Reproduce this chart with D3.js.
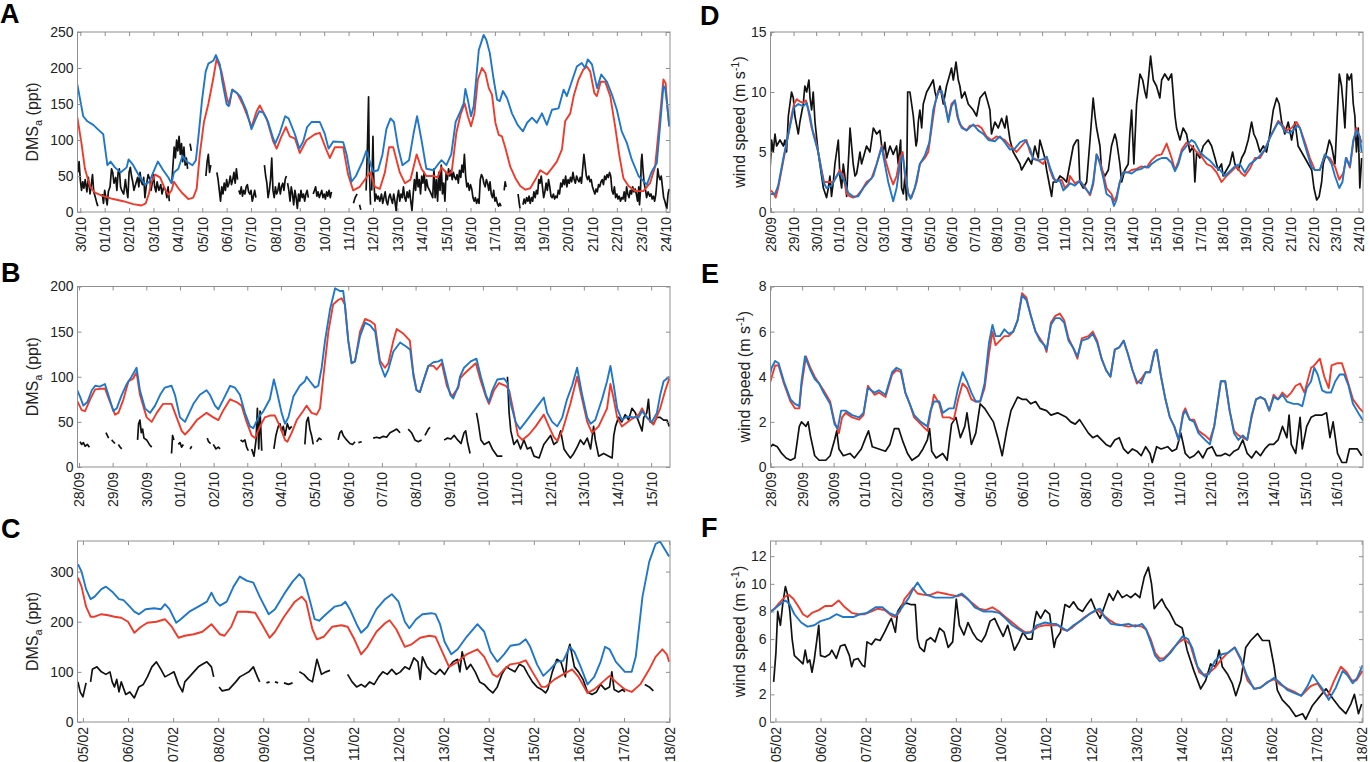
<!DOCTYPE html>
<html>
<head>
<meta charset="utf-8">
<script src="https://cdn.jsdelivr.net/npm/d3@7"></script>
<style>
  body { margin: 0; background: #fff; }
  svg { display: block; }
</style>
</head>
<body>
<svg id="chart" width="1370" height="762"></svg>
<script>
// ---- tick labels ----
const aDates = ['30/10','01/10','02/10','03/10','04/10','05/10','06/10','07/10','08/10','09/10','10/10','11/10','12/10',
  '13/10','14/10','15/10','16/10','17/10','18/10','19/10','20/10','21/10','22/10','23/10','24/10'];
const dDates = ['28/09','29/10','30/10','01/10','02/10','03/10','04/10','05/10','06/10','07/10','08/10','09/10','10/10',
  '11/10','12/10','13/10','14/10','15/10','16/10','17/10','18/10','19/10','20/10','21/10','22/10','23/10','24/10'];
const bDates = ['28/09','29/09','30/09','01/10','02/10','03/10','04/10','05/10','06/10','07/10','08/10','09/10','10/10',
  '11/10','12/10','13/10','14/10','15/10'];
const eDates = ['28/09','29/09','30/09','01/10','02/10','03/10','04/10','05/10','06/10','07/10','08/10','09/10','10/10',
  '11/10','12/10','13/10','14/10','15/10','16/10'];
const febDates = ['05/02','06/02','07/02','08/02','09/02','10/02','11/02','12/02','13/02','14/02','15/02','16/02','17/02','18/02'];

const aYTicks = [0, 50, 100, 150, 200, 250];
const bYTicks = [0, 50, 100, 150, 200];
const cYTicks = [0, 100, 200, 300];
const dYTicks = [0, 5, 10, 15];
const eYTicks = [0, 2, 4, 6, 8];
const fYTicks = [0, 2, 4, 6, 8, 10, 12];

// ---- series: [day since first tick, value], null = gap ----
const aBlue = [[-0.12,177],[0.12,133],[0.29,126],[0.53,121],[0.81,112],[0.94,108],[1.11,65],[1.24,70],[1.42,62],[1.65,55],[1.90,62],[1.98,73],[2.17,65],[2.38,52],[2.65,38],[2.83,42],[2.99,55],[3.18,70],[3.40,58],[3.61,48],[3.74,40],[3.84,55],[4.02,60],[4.19,78],[4.36,70],[4.60,65],[4.74,72],[4.86,110],[4.99,155],[5.14,195],[5.25,206],[5.45,210],[5.56,218],[5.72,205],[5.83,180],[6.00,150],[6.08,147],[6.23,170],[6.43,165],[6.57,160],[6.82,140],[7.02,115],[7.20,130],[7.34,140],[7.50,138],[7.70,125],[7.88,105],[7.99,95],[8.18,110],[8.40,133],[8.54,130],[8.80,108],[8.98,88],[9.14,98],[9.30,118],[9.48,125],[9.82,125],[10.03,108],[10.18,88],[10.37,98],[10.78,97],[10.92,80],[11.12,42],[11.30,50],[11.57,70],[11.73,85],[11.87,70],[12.01,56],[12.21,58],[12.39,80],[12.55,115],[12.72,130],[12.86,125],[13.03,90],[13.21,65],[13.48,72],[13.67,110],[13.81,133],[13.99,100],[14.19,60],[14.49,58],[14.71,68],[14.81,72],[15.01,65],[15.21,80],[15.39,125],[15.59,140],[15.72,151],[15.79,171],[15.89,156],[16.02,133],[16.13,147],[16.34,225],[16.54,246],[16.65,239],[16.79,221],[16.95,184],[17.09,156],[17.20,154],[17.33,168],[17.50,158],[17.70,137],[17.93,121],[18.15,112],[18.32,124],[18.52,131],[18.72,124],[18.93,137],[19.13,121],[19.34,142],[19.61,144],[19.82,170],[19.95,161],[20.09,175],[20.36,202],[20.56,207],[20.70,200],[20.81,212],[20.98,205],[21.19,172],[21.36,191],[21.59,181],[21.80,163],[22.00,142],[22.20,112],[22.41,96],[22.61,73],[22.89,50],[23.23,38],[23.43,56],[23.64,68],[23.77,119],[23.91,175],[23.98,172],[24.07,147],[24.15,119]];
const aRed = [[-0.12,131],[0.05,95],[0.19,60],[0.40,35],[0.60,27],[0.94,22],[1.35,18],[1.76,15],[2.17,11],[2.51,9],[2.68,12],[2.81,25],[2.92,42],[3.07,52],[3.27,48],[3.47,32],[3.61,24],[3.74,30],[3.84,42],[4.02,33],[4.19,26],[4.43,18],[4.63,20],[4.77,32],[4.90,80],[5.07,125],[5.25,150],[5.45,185],[5.59,213],[5.79,195],[6.00,160],[6.11,148],[6.23,170],[6.43,165],[6.68,148],[6.89,130],[7.02,118],[7.23,140],[7.36,148],[7.64,130],[7.91,98],[8.05,88],[8.25,105],[8.43,118],[8.59,105],[8.80,102],[9.00,82],[9.28,100],[9.62,108],[9.82,110],[10.07,88],[10.23,75],[10.44,90],[10.78,90],[10.98,52],[11.19,30],[11.46,35],[11.73,48],[11.90,55],[12.08,35],[12.28,32],[12.49,55],[12.66,90],[12.83,90],[13.10,55],[13.31,40],[13.54,45],[13.72,70],[13.79,80],[13.99,60],[14.19,50],[14.49,50],[14.65,48],[14.81,62],[15.08,52],[15.23,56],[15.42,110],[15.59,135],[15.76,151],[15.89,133],[16.02,119],[16.16,137],[16.30,184],[16.47,200],[16.61,193],[16.75,172],[16.88,163],[17.02,124],[17.16,107],[17.29,105],[17.43,89],[17.63,63],[17.84,47],[18.04,36],[18.25,31],[18.45,33],[18.66,45],[18.86,58],[19.13,52],[19.34,61],[19.54,70],[19.75,87],[19.88,126],[20.09,137],[20.23,161],[20.43,184],[20.63,198],[20.77,202],[20.91,195],[21.08,165],[21.18,161],[21.34,181],[21.52,181],[21.73,161],[21.93,119],[22.11,77],[22.27,47],[22.48,36],[22.75,29],[23.09,29],[23.36,40],[23.57,63],[23.77,133],[23.91,184],[24.00,179],[24.07,147],[24.15,119]];
const aBlack = [[-0.1,55],[-0.05,70],[0,45],[0.05,30],[0.1,42],[0.15,33],[0.2,45],[0.27,28],[0.33,48],[0.4,25],[0.45,38],[0.5,52],[0.55,28],[0.62,20],[0.68,12],[0.72,8],[0.76,null],
  [0.9,25],[0.95,12],[1.0,30],[1.05,20],[1.1,10],[1.15,28],[1.22,35],[1.28,60],[1.33,55],[1.38,40],[1.45,48],[1.5,30],[1.55,55],[1.6,60],[1.65,35],[1.7,30],[1.78,25],[1.85,45],[1.9,30],[1.95,20],[2.0,55],[2.05,62],[2.1,50],[2.15,42],[2.2,30],[2.28,40],[2.35,48],[2.4,35],[2.45,55],[2.5,42],[2.55,38],[2.6,48],[2.65,20],[2.7,35],[2.78,52],[2.85,45],[2.9,30],[2.95,40],[3.0,52],[3.05,35],[3.1,28],[3.15,42],[3.22,30],[3.3,38],[3.35,25],[3.42,35],[3.5,30],[3.55,20],[3.6,35],[3.65,15],[3.7,null],
  [3.75,40],[3.8,65],[3.85,90],[3.9,75],[3.95,100],[4.0,85],[4.05,105],[4.1,80],[4.15,95],[4.2,70],[4.25,90],[4.3,65],[4.35,75],[4.4,60],[4.45,null],[4.5,95],[4.55,85],[4.6,null],
  [5.15,50],[5.2,70],[5.25,80],[5.3,55],[5.35,65],[5.4,null],
  [5.6,55],[5.65,45],[5.7,30],[5.75,15],[5.8,35],[5.85,25],[5.9,40],[5.95,30],[6.0,45],[6.05,35],[6.1,40],[6.15,50],[6.2,38],[6.25,45],[6.3,55],[6.35,40],[6.4,60],[6.45,45],[6.47,null],
  [6.5,30],[6.55,25],[6.6,35],[6.65,22],[6.7,30],[6.75,25],[6.8,35],[6.85,38],[6.9,28],[6.95,25],[7.0,30],[7.05,15],[7.1,22],[7.15,30],[7.2,20],[7.25,null],
  [7.55,65],[7.6,50],[7.65,40],[7.7,20],[7.75,30],[7.8,45],[7.85,75],[7.9,30],[7.95,20],[8.0,35],[8.05,25],[8.1,30],[8.15,40],[8.2,25],[8.25,35],[8.3,40],[8.35,30],[8.4,45],[8.45,50],[8.47,null],
  [8.5,40],[8.55,30],[8.6,15],[8.65,35],[8.7,25],[8.75,10],[8.8,30],[8.85,20],[8.9,5],[8.95,25],[9.0,15],[9.05,30],[9.1,20],[9.15,25],[9.2,15],[9.25,25],[9.3,30],[9.35,20],[9.4,null],
  [9.55,25],[9.6,30],[9.65,35],[9.7,22],[9.75,28],[9.8,20],[9.85,25],[9.9,30],[9.95,20],[10.0,25],[10.05,18],[10.1,28],[10.15,22],[10.2,30],[10.25,20],[10.3,28],[10.35,null],
  [11.2,12],[11.27,20],[11.35,25],[11.4,null],[11.45,10],[11.5,3],[11.55,null],
  [11.72,30],[11.78,100],[11.82,160],[11.85,60],[11.9,10],[11.92,null],
  [11.95,30],[12.0,105],[12.03,50],[12.08,15],[12.12,25],[12.18,18],[12.22,22],[12.28,15],[12.35,25],[12.4,12],[12.45,20],[12.5,28],[12.55,15],[12.6,10],[12.65,20],[12.7,25],[12.75,18],[12.8,12],[12.85,25],[12.9,15],[12.95,2],[13.0,20],[13.05,30],[13.1,15],[13.15,25],[13.2,20],[13.25,35],[13.3,20],[13.35,15],[13.4,28],[13.45,20],[13.5,30],[13.55,15],[13.6,2],[13.65,25],[13.7,45],[13.75,30],[13.8,55],[13.85,35],[13.9,45],[13.95,25],[14.0,50],[14.05,40],[14.1,55],[14.15,30],[14.2,45],[14.25,35],[14.35,28],[14.45,20],[14.5,60],[14.55,20],[14.6,45],[14.65,15],[14.7,55],[14.75,30],[14.8,65],[14.85,25],[14.9,40],[14.95,15],[15.0,55],[15.05,45],[15.1,60],[15.15,50],[15.2,58],[15.25,45],[15.3,55],[15.35,48],
  [15.4,45],[15.45,52],[15.5,40],[15.55,58],[15.6,48],[15.65,65],[15.7,55],[15.75,80],[15.8,50],[15.85,35],[15.9,40],[15.95,30],[16.0,38],[16.05,32],[16.1,20],[16.15,15],[16.2,20],[16.25,12],[16.3,18],[16.35,12],[16.4,45],[16.45,52],[16.5,48],[16.55,40],[16.6,35],[16.65,45],[16.7,40],[16.75,30],[16.8,42],[16.85,25],[16.9,20],[16.95,30],[17.0,15],[17.05,20],[17.1,12],[17.15,8],[17.2,12],[17.25,8],[17.3,null],
  [17.38,30],[17.42,42],[17.46,35],[17.5,null],
  [17.95,25],[18.0,12],[18.03,5],[18.08,null],
  [18.15,10],[18.2,18],[18.25,12],[18.3,20],[18.35,15],[18.4,22],[18.45,12],[18.5,20],[18.55,15],[18.6,28],[18.65,20],[18.7,30],[18.75,25],[18.8,45],[18.85,40],[18.9,50],[18.95,35],[19.0,20],[19.05,28],[19.1,40],[19.15,30],[19.2,45],[19.25,35],[19.3,22],[19.35,20],[19.4,25],[19.45,18],[19.5,22],[19.55,20],[19.6,30],[19.65,25],[19.7,40],[19.75,35],[19.8,45],[19.85,38],[19.9,50],[19.95,35],[20.0,45],[20.05,40],[20.1,48],[20.15,42],[20.2,55],[20.25,45],[20.3,40],[20.35,50],[20.4,45],[20.45,42],[20.5,48],[20.55,40],[20.6,60],[20.65,80],[20.7,65],[20.75,50],[20.8,45],[20.85,50],[20.9,42],[20.95,45],[21.0,35],[21.05,30],[21.1,25],[21.15,32],[21.2,28],[21.25,38],[21.3,35],[21.35,42],[21.4,45],[21.45,38],[21.5,50],[21.55,45],[21.6,52],[21.65,48],[21.7,55],[21.75,50],[21.8,30],[21.85,25],[21.9,35],[21.95,20],[22.0,25],[22.05,18],[22.1,22],[22.15,15],[22.2,20],[22.25,18],[22.3,28],[22.35,15],[22.4,35],[22.45,25],[22.5,20],[22.55,30],[22.6,25],[22.65,35],[22.7,28],[22.75,32],[22.8,25],[22.85,15],[22.9,35],[22.93,10],[22.97,30],[23.0,70],[23.03,80],[23.07,60],[23.12,40],[23.18,30],[23.22,20],[23.28,28],[23.35,22],[23.4,25],[23.45,18],[23.5,22],[23.55,15],[23.6,25],[23.65,45],[23.68,60],[23.72,50],[23.77,45],[23.82,50],[23.87,35],[23.92,20],[23.97,15],[24.02,8],[24.05,5],[24.1,25],[24.15,32]];

const dRed = [[0,1.8],[0.10,1.6],[0.21,1.2],[0.32,2],[0.47,3.5],[0.62,5],[0.77,6.5],[0.91,8],[1.02,9],[1.14,9.4],[1.28,9.2],[1.43,9.1],[1.55,9.3],[1.65,8.5],[1.80,7],[1.95,6.2],[2.09,5],[2.24,3.5],[2.35,2.5],[2.54,2.5],[2.76,2.5],[2.91,3],[3.05,3.5],[3.20,3],[3.35,1.5],[3.50,1.3],[3.64,1.2],[3.79,1.3],[4.01,1.8],[4.23,2.5],[4.45,2.8],[4.68,4],[4.90,5.5],[5.04,4.5],[5.27,3],[5.41,2.3],[5.56,3],[5.71,4.5],[5.83,5],[5.93,3],[6.08,1.5],[6.22,1.2],[6.45,2.5],[6.59,4],[6.81,4.5],[6.96,5],[7.11,7],[7.26,9],[7.40,10.1],[7.55,10],[7.70,9],[7.85,7.7],[7.99,9],[8.14,9.3],[8.24,8],[8.36,7.3],[8.51,7],[8.66,6.8],[8.81,7.2],[8.95,7.2],[9.17,7.2],[9.32,7],[9.54,6.3],[9.76,6],[9.99,6.3],[10.13,6.2],[10.35,6],[10.58,5.5],[10.72,5.3],[10.87,5],[11.09,5.5],[11.31,6],[11.46,5],[11.61,4.5],[11.83,4.3],[12.05,4],[12.20,4.6],[12.35,3.5],[12.49,2.8],[12.64,2.6],[12.86,2.7],[13.01,2],[13.16,2.3],
  [13.23,3],[13.45,2.4],[13.67,2.6],[13.89,2.1],[14.12,1.4],[14.26,2.3],[14.41,4.8],[14.56,4.2],[14.71,3.2],[14.85,2],[15.07,1.5],[15.18,0.9],[15.29,1.3],[15.44,2.5],[15.59,3.3],[15.81,3.3],[15.96,3.5],[16.18,3.6],[16.40,3.8],[16.62,3.7],[16.84,4.3],[17.06,4.7],[17.29,4.8],[17.51,5.7],[17.73,4.5],[17.88,3.5],[18.03,4.2],[18.18,5.2],[18.39,5.8],[18.61,5.5],[18.84,5],[19.06,4.6],[19.28,4],[19.50,3.8],[19.72,3.3],[19.94,2.5],[20.16,3],[20.38,3.4],[20.60,3.8],[20.83,3.2],[20.97,3],[21.19,3.6],[21.42,4.5],[21.64,4.5],[21.86,5.2],[22.08,6.2],[22.30,7],[22.45,7.6],[22.60,7.3],[22.82,6.8],[23.04,7],[23.26,7.5],[23.41,7],[23.63,5.8],[23.85,4.5],[24.07,3.5],[24.29,3.5],[24.51,4.7],[24.73,4.5],[24.96,3.8],[25.15,2.7],[25.32,3.2],[25.47,4.5],[25.62,3.7],[25.77,5.8],[25.91,7],[26.06,6.2],[26.14,5.8]];
const dBlue = [[0,1.5],[0.18,1.5],[0.32,2.2],[0.55,4.5],[0.77,6.5],[1.02,8.7],[1.21,9],[1.43,8.8],[1.58,9.1],[1.73,8],[1.87,6.5],[2.09,5],[2.32,2.5],[2.46,2],[2.68,2.2],[2.91,3],[3.05,3.3],[3.27,2.5],[3.42,1.6],[3.64,1.3],[3.86,1.3],[4.09,2],[4.31,2.5],[4.53,3],[4.68,4],[4.90,5.4],[5.04,4],[5.19,2.5],[5.41,0.9],[5.56,2],[5.71,4],[5.83,4.7],[5.96,3],[6.08,1.5],[6.18,1.1],[6.37,2],[6.59,4],[6.81,4.7],[7.01,5.8],[7.18,8.5],[7.40,10],[7.55,10.1],[7.70,9],[7.85,7.5],[7.99,8.8],[8.14,9.3],[8.29,7.8],[8.44,7],[8.66,6.8],[8.95,7.3],[9.17,6.8],[9.40,6.5],[9.62,6],[9.91,5.9],[10.13,6.3],[10.35,5.8],[10.58,5.2],[10.80,5.3],[11.02,5.8],[11.24,6],[11.46,5.3],[11.61,4.4],[11.83,4.3],[12.05,4.4],[12.20,4.6],[12.35,3.7],[12.57,2.6],[12.79,2.6],[12.94,1.8],[13.16,2.2],
  [13.23,2.4],[13.45,2.2],[13.67,2.6],[13.89,2],[14.12,1.5],[14.26,2.5],[14.41,4.8],[14.56,4],[14.71,2.8],[14.85,1.5],[15.07,1.2],[15.18,0.5],[15.29,1],[15.44,2.5],[15.59,3.3],[15.81,3.3],[15.96,3.2],[16.18,3.5],[16.40,3.6],[16.55,3.8],[16.70,3.7],[16.84,4],[17.06,4.3],[17.29,4.5],[17.51,4.5],[17.73,4.1],[17.88,3.4],[18.03,4],[18.18,5],[18.39,5.5],[18.61,6],[18.76,5.8],[18.98,5],[19.20,4.6],[19.42,4.3],[19.65,3.8],[19.87,3.5],[20.09,3],[20.31,3.4],[20.53,3.8],[20.75,4],[20.97,3.3],[21.19,4],[21.42,4.3],[21.64,4.7],[21.86,5.2],[22.08,6.2],[22.30,7],[22.45,7.5],[22.60,7.2],[22.74,6.7],[22.96,6.6],[23.11,6.8],[23.26,7.2],[23.41,7],[23.56,6],[23.78,4.6],[23.93,3.7],[24.07,3.5],[24.29,3.5],[24.51,4.8],[24.66,4.5],[24.81,4],[24.96,3],[25.15,2],[25.29,2.5],[25.44,4.5],[25.62,3.8],[25.77,6],[25.91,6.8],[26.06,6.3],[26.14,5]];
const dBlack = [[-0.07,2.5],[0.03,6],[0.10,5],[0.18,6.5],[0.25,5.5],[0.40,6],[0.55,5.5],[0.62,6],[0.69,5],[0.77,8],[0.84,9],[0.91,10],[0.99,9.5],[1.06,8],[1.21,6.5],[1.28,7.5],[1.43,9],[1.50,10.5],[1.58,10],[1.68,11],[1.73,9.5],[1.80,8.5],[1.87,10],[1.95,7.5],[2.09,5],[2.24,3],[2.32,2],[2.46,1.2],[2.54,2],[2.61,3],[2.68,1.3],[2.76,2.5],[2.83,4],[2.98,6],[3.05,3],[3.13,2],[3.20,4],[3.27,3],[3.35,1.3],[3.39,3],[3.45,5],[3.50,7],[3.57,5.5],[3.64,4],[3.72,3],[3.79,3.2],[3.86,4],[3.94,5],[4.01,4],[4.23,5.5],[4.38,5],[4.53,7],[4.68,6.5],[4.82,6.8],[4.90,5.5],[4.97,5],[5.04,5.8],[5.12,4.5],[5.27,5.5],[5.41,4.8],[5.56,5.5],[5.63,4],[5.71,5.5],[5.74,6],[5.78,2],[5.86,1.5],[5.93,3],[6.00,1],[6.05,10],[6.15,10],[6.30,8],[6.42,5.5],[6.47,6],[6.52,7.5],[6.59,8.5],[6.67,7],[6.74,9],[6.89,10],[7.04,10.5],[7.18,11],[7.26,10],[7.33,9.5],[7.48,10.5],[7.63,9],[7.77,10.5],[7.92,11.5],[7.99,12],[8.07,11],[8.19,12.5],[8.29,11],[8.36,10.5],[8.44,9.5],[8.58,10],[8.73,9],[8.95,8.5],[9.10,8],[9.25,9.5],[9.47,10],[9.62,9],[9.69,8.5],[9.76,6.5],[9.91,7.5],[10.06,7],[10.21,7.8],[10.35,7],[10.43,8],[10.50,7],[10.58,6],[10.72,5],[10.87,4.5],[11.02,4],[11.09,3.5],[11.24,4],[11.39,4.5],[11.53,4],[11.68,5.5],[11.83,4.5],[11.90,6],[12.05,5],[12.12,4.5],[12.20,3.5],[12.35,2],[12.42,1.3],[12.49,2.5],[12.64,2.5],[12.79,3],[12.94,2.8],[13.08,2.5],[13.23,4],[13.38,5.5],[13.53,6],
  [13.60,6],[13.67,2.5],[13.82,2],[13.97,2.5],[14.12,6],[14.26,9.5],[14.34,8],[14.41,7],[14.56,5.5],[14.63,3.5],[14.78,3],[14.93,3.5],[15.07,5.5],[15.22,6.5],[15.29,6],[15.44,4],[15.52,2.5],[15.66,3.5],[15.81,4],[15.88,6.5],[15.96,8.5],[16.06,4],[16.18,9],[16.33,11.5],[16.45,11],[16.55,10],[16.62,9.5],[16.70,11],[16.80,13],[16.92,11],[17.06,10.5],[17.21,9.5],[17.29,11],[17.43,11.5],[17.59,11],[17.73,11.5],[17.88,8],[17.95,7],[18.10,6],[18.24,7],[18.39,6.5],[18.54,5],[18.69,5.5],[18.76,2.5],[18.84,5],[18.98,4.5],[19.13,5.5],[19.35,6],[19.50,5.5],[19.65,4.5],[19.79,3.5],[19.94,4],[20.01,3],[20.16,3.5],[20.31,4],[20.43,5],[20.53,4],[20.68,3.5],[20.83,4.5],[20.97,5],[21.12,6],[21.27,7.5],[21.37,6.5],[21.49,6],[21.64,5],[21.79,5.5],[21.93,5],[22.08,6.5],[22.23,8.5],[22.38,9.5],[22.49,9],[22.60,7.5],[22.74,6.5],[22.89,7.5],[23.04,6],[23.19,7.5],[23.33,5.5],[23.48,5],[23.63,4.5],[23.78,4],[23.93,3.5],[24.03,2],[24.15,1],[24.26,1.3],[24.37,2.5],[24.44,4],[24.59,5],[24.71,6],[24.81,5.5],[24.96,4],[25.06,8],[25.15,11.5],[25.25,10.5],[25.32,9],[25.40,7],[25.50,11.5],[25.59,11],[25.69,11.5],[25.77,9],[25.84,8],[25.91,5],[25.99,7],[26.06,2],[26.14,4.5]];

const bBlue = [[-0.05,85],[0.03,78],[0.13,68],[0.25,72],[0.38,85],[0.48,90],[0.62,89],[0.77,92],[0.87,80],[1.02,62],[1.12,65],[1.27,80],[1.42,92],[1.56,100],[1.71,110],[1.81,85],[1.96,65],[2.11,60],[2.26,68],[2.41,80],[2.55,88],[2.75,90],[2.85,80],[3.0,55],[3.15,50],[3.25,58],[3.40,70],[3.59,80],[3.79,85],[3.89,80],[4.04,68],[4.14,64],[4.29,75],[4.49,90],[4.63,88],[4.78,80],[4.93,60],[5.08,45],[5.18,43],[5.33,55],[5.48,62],[5.67,75],[5.79,97],[5.87,85],[6.02,60],[6.12,48],[6.22,55],[6.37,78],[6.56,90],[6.71,95],[6.76,100],[6.86,95],[7.01,88],[7.11,90],[7.21,110],[7.31,140],[7.46,175],[7.61,198],[7.75,195],[7.85,195],[7.90,180],[8.0,140],[8.10,115],[8.20,117],[8.35,145],[8.50,160],[8.65,157],[8.80,150],[8.94,115],[9.09,100],[9.19,108],[9.34,128],[9.54,138],[9.74,133],[9.84,130],[9.94,100],[10.03,85],[10.13,83],[10.23,95],[10.38,112],[10.53,116],[10.68,117],[10.78,119],[10.93,95],[11.03,80],[11.12,76],[11.27,90],[11.32,100],[11.44,110],[11.64,117],[11.81,120],[11.94,100],[12.09,80],[12.18,72],[12.28,85],[12.43,97],[12.63,98],[12.73,93],[12.83,70],[12.97,50],[13.10,42],[13.27,50],[13.47,60],[13.67,70],[13.81,77],[13.91,60],[14.06,50],[14.21,45],[14.36,55],[14.50,75],[14.65,90],[14.80,110],[14.95,80],[15.10,55],[15.20,48],[15.34,52],[15.54,75],[15.69,95],[15.79,112],[15.89,90],[15.99,65],[16.13,52],[16.28,56],[16.48,55],[16.63,55],[16.73,62],[16.87,55],[17.02,50],[17.17,60],[17.27,80],[17.37,95],[17.54,100]];
const bRed = [[-0.05,73],[0.08,63],[0.18,62],[0.33,75],[0.48,86],[0.77,87],[0.92,72],[1.07,58],[1.17,60],[1.32,75],[1.47,95],[1.61,98],[1.71,105],[1.81,80],[2.01,55],[2.16,50],[2.31,60],[2.50,70],[2.75,70],[2.90,55],[3.05,40],[3.15,36],[3.30,42],[3.50,52],[3.79,60],[3.99,55],[4.14,52],[4.29,63],[4.49,75],[4.68,72],[4.83,68],[4.98,50],[5.13,35],[5.23,32],[5.38,45],[5.52,55],[5.67,57],[5.82,57],[5.97,45],[6.12,30],[6.19,28],[6.32,38],[6.47,52],[6.66,62],[6.76,68],[6.91,60],[7.06,58],[7.16,65],[7.26,100],[7.41,150],[7.55,180],[7.70,185],[7.80,187],[7.90,180],[8.0,140],[8.10,115],[8.20,117],[8.35,150],[8.50,164],[8.64,162],[8.79,158],[8.94,118],[9.09,110],[9.19,115],[9.34,140],[9.44,153],[9.63,148],[9.83,140],[9.93,105],[10.03,85],[10.13,83],[10.23,95],[10.38,112],[10.53,112],[10.63,108],[10.78,115],[10.93,90],[11.08,78],[11.27,88],[11.32,98],[11.44,103],[11.64,110],[11.79,115],[11.94,95],[12.09,78],[12.18,70],[12.33,85],[12.48,93],[12.68,90],[12.78,85],[12.92,60],[13.04,35],[13.17,30],[13.37,36],[13.57,45],[13.81,58],[13.96,45],[14.11,33],[14.21,29],[14.36,40],[14.60,70],[14.80,100],[14.95,75],[15.10,50],[15.24,38],[15.44,45],[15.69,65],[15.79,92],[15.89,75],[15.99,55],[16.13,45],[16.38,52],[16.63,58],[16.73,65],[16.87,55],[17.07,47],[17.27,65],[17.42,85],[17.54,98]];
const bBlack = [[0.03,28],[0.08,25],[0.13,27],[0.18,23],[0.25,25],[0.31,22],[0.33,null],
  [0.80,38],[0.84,35],[0.88,32],[0.9,null],[0.97,30],[1.02,28],[1.07,26],[1.1,null],[1.17,25],[1.22,22],[1.27,20],[1.3,null],
  [1.74,30],[1.77,48],[1.81,52],[1.85,38],[1.89,42],[1.93,32],[2.01,30],[2.09,25],[2.16,22],[2.2,null],
  [2.75,15],[2.78,35],[2.82,30],[2.85,null],[2.95,25],[3.0,27],[3.05,22],[3.10,25],[3.15,null],[3.30,20],[3.35,23],[3.4,null],
  [3.81,32],[3.85,28],[3.91,26],[3.95,null],[3.99,25],[4.07,20],[4.14,22],[4.19,20],[4.22,null],
  [4.80,30],[4.86,28],[4.93,30],[4.98,22],[5.03,18],[5.08,null],
  [5.13,20],[5.20,12],[5.26,30],[5.30,65],[5.34,20],[5.38,62],[5.43,18],[5.47,null],
  [5.79,20],[5.85,35],[5.92,45],[5.97,48],[6.02,40],[6.07,45],[6.12,35],[6.19,48],[6.25,42],[6.32,45],[6.36,null],
  [6.71,25],[6.76,50],[6.81,55],[6.86,42],[6.91,35],[6.96,25],[7.0,null],[7.06,28],[7.14,32],[7.21,30],[7.25,null],
  [7.70,30],[7.75,38],[7.80,40],[7.85,35],[7.95,30],[8.05,26],[8.13,25],[8.20,28],[8.25,null],[8.30,27],[8.40,28],[8.45,null],
  [8.74,32],[8.84,33],[8.94,32],[9.04,34],[9.14,33],[9.24,38],[9.34,40],[9.44,42],[9.54,38],[9.6,null],
  [9.78,42],[9.88,38],[9.98,30],[10.08,28],[10.18,30],[10.22,null],[10.28,35],[10.38,42],[10.43,44],[10.47,null],
  [10.85,30],[10.95,32],[11.05,31],[11.15,35],[11.25,30],[11.35,26],[11.44,38],[11.49,40],[11.54,28],[11.62,15],[11.7,null],
  [11.81,60],[11.86,50],[11.94,30],[12.04,25],[12.18,28],[12.28,20],[12.43,12],[12.58,12],[12.65,null],
  [12.73,100],[12.78,60],[12.83,40],[12.92,25],[13.02,30],[13.12,20],[13.22,30],[13.32,20],[13.42,22],[13.52,12],[13.67,10],[13.81,25],[13.91,30],[14.01,35],[14.11,25],[14.21,28],[14.31,40],[14.41,20],[14.50,15],[14.60,10],[14.70,15],[14.80,22],[14.90,30],[15.0,25],[15.10,32],[15.20,20],[15.29,45],[15.34,30],[15.44,12],[15.59,15],[15.74,12],[15.84,10],[15.89,35],[15.94,45],[16.03,55],[16.13,50],[16.23,58],[16.33,52],[16.43,65],[16.53,60],[16.63,50],[16.73,40],[16.78,55],[16.87,60],[16.92,75],[16.97,50],[17.07,48],[17.17,55],[17.27,55],[17.37,52],[17.47,52],[17.54,45]];

const eBlue = [[-0.07,3.8],[0.03,4.4],[0.14,4.7],[0.25,4.6],[0.42,3.8],[0.63,3],[0.77,2.8],[0.91,2.7],[0.98,3.8],[1.09,4.9],[1.26,4.3],[1.40,3.9],[1.54,3.7],[1.68,3.3],[1.89,2.8],[2.03,1.9],[2.13,1.7],[2.24,2.5],[2.38,2.5],[2.59,2.3],[2.81,2.2],[2.95,2.4],[3.09,3.5],[3.30,3.3],[3.44,3.4],[3.65,3.2],[3.86,4.2],[4.0,4.4],[4.14,4.3],[4.28,3.3],[4.42,2.8],[4.56,2.3],[4.77,2],[4.98,1.8],[5.08,2.5],[5.19,2.9],[5.36,2.9],[5.47,2.4],[5.68,2.6],[5.82,2.6],[5.96,3.5],[6.10,4.2],[6.24,3.8],[6.38,3.3],[6.52,2.9],[6.66,2.9],[6.80,3.7],[6.94,5.5],[7.05,6.3],[7.15,5.8],[7.29,5.8],[7.43,6.1],[7.57,5.9],[7.71,6],[7.85,6.5],[7.99,7.6],[8.13,7.4],[8.27,6.7],[8.42,6],[8.56,5.6],[8.70,5.4],[8.77,5.2],[8.91,6.3],[9.05,6.6],[9.19,6.6],[9.33,6.4],[9.47,5.6],[9.61,5.3],[9.75,4.9],[9.89,5.6],[10.10,5.7],[10.24,5.9],[10.38,5.5],[10.52,4.8],[10.66,4.3],[10.80,4],[10.94,5.2],[11.08,5.3],[11.22,5.6],[11.36,5],[11.50,4.3],[11.64,3.8],[11.78,3.7],[11.92,4.2],[12.06,4.2],[12.20,5.1],[12.27,5.2],[12.41,4],[12.55,3],[12.69,2.2],[12.83,1.8],[12.97,1.2],[13.11,2.3],[13.18,2.5],[13.32,2.1],[13.46,2],[13.60,1.5],[13.81,1.2],[13.96,1.0],[14.10,1.8],[14.31,3.8],[14.45,3.8],[14.59,2.5],[14.73,1.5],[14.87,1.2],[15.01,1.4],[15.15,1.2],[15.29,2.3],[15.43,3],[15.57,3.1],[15.71,3],[15.85,2.5],[15.99,3.1],[16.13,3.0],[16.27,3.2],[16.41,2.9],[16.62,2.8],[16.76,2.8],[16.90,2.7],[17.04,3.5],[17.18,3.8],[17.28,4.4],[17.39,4.1],[17.53,3.4],[17.67,3.3],[17.81,3.3],[17.95,3.8],[18.09,4.1],[18.23,4.1],[18.37,3.6],[18.51,2.8],[18.72,2.3],[18.86,2.0]];
const eRed = [[-0.07,3.5],[0.14,4.5],[0.25,4.5],[0.42,3.7],[0.63,2.9],[0.77,2.6],[0.91,2.6],[0.98,3.6],[1.12,4.9],[1.26,4.4],[1.40,4.0],[1.54,3.7],[1.68,3.4],[1.89,2.9],[2.03,2.0],[2.17,1.5],[2.27,2.2],[2.38,2.4],[2.59,2.2],[2.81,2.1],[2.95,2.3],[3.09,3.6],[3.30,3.2],[3.44,3.3],[3.65,3.1],[3.86,4.1],[4.0,4.3],[4.14,4.2],[4.28,3.3],[4.42,2.8],[4.56,2.2],[4.77,1.9],[4.98,1.6],[5.08,2.4],[5.19,3.2],[5.36,2.8],[5.47,2.2],[5.68,2.2],[5.82,2.1],[5.96,3.0],[6.10,3.7],[6.24,3.5],[6.38,3.0],[6.52,2.9],[6.66,2.9],[6.80,3.5],[6.94,5.0],[7.05,6.0],[7.15,5.4],[7.29,5.6],[7.43,5.8],[7.57,5.8],[7.71,6.0],[7.85,6.5],[7.99,7.7],[8.13,7.5],[8.27,6.7],[8.42,6.0],[8.56,5.7],[8.70,5.4],[8.77,5.1],[8.91,6.4],[9.05,6.7],[9.19,6.8],[9.33,6.5],[9.47,5.7],[9.61,5.3],[9.75,4.8],[9.89,5.7],[10.10,5.8],[10.24,6.0],[10.38,5.6],[10.52,4.8],[10.66,4.3],[10.80,4.0],[10.94,5.2],[11.08,5.3],[11.22,5.6],[11.36,5.0],[11.50,4.3],[11.64,3.7],[11.78,3.9],[11.92,4.2],[12.06,4.2],[12.20,5.1],[12.27,5.2],[12.41,4.0],[12.55,3.0],[12.69,2.2],[12.83,1.8],[12.97,1.2],[13.11,2.4],[13.18,2.6],[13.32,2.1],[13.46,2.1],[13.60,1.6],[13.81,1.4],[13.96,1.2],[14.10,1.8],[14.31,3.8],[14.45,3.8],[14.59,2.5],[14.73,1.6],[14.87,1.4],[15.01,1.3],[15.15,1.2],[15.29,2.2],[15.43,3.0],[15.57,3.1],[15.71,3.0],[15.85,2.5],[15.99,3.2],[16.13,3.0],[16.27,3.3],[16.41,3.1],[16.55,3.3],[16.69,3.6],[16.83,3.7],[16.97,3.3],[17.18,4.4],[17.28,4.5],[17.46,4.8],[17.60,4.0],[17.74,3.5],[17.83,4.5],[18.02,4.6],[18.16,4.6],[18.30,4.0],[18.51,3.0],[18.72,2.6],[18.86,2.4]];
const eBlack = [[-0.07,0.8],[0.07,1],[0.21,0.9],[0.35,0.6],[0.49,0.4],[0.63,0.3],[0.77,0.4],[0.91,1.8],[0.98,2.0],[1.12,1.8],[1.19,2],[1.26,1.4],[1.40,0.5],[1.54,0.3],[1.75,0.3],[1.89,0.5],[2.03,1.2],[2.10,1.6],[2.17,0.8],[2.31,0.5],[2.52,0.6],[2.66,0.4],[2.88,0.8],[3.02,1.3],[3.11,1.6],[3.23,0.9],[3.44,0.8],[3.65,0.7],[3.79,1],[3.93,1.7],[4.07,1.7],[4.21,1.1],[4.35,0.6],[4.49,0.3],[4.70,0.5],[4.84,0.8],[4.98,1.2],[5.05,1.7],[5.12,0.7],[5.26,0.4],[5.47,0.6],[5.61,0.3],[5.75,1.9],[5.89,2.2],[6.03,1.3],[6.17,1.8],[6.24,2.4],[6.38,1],[6.52,1.5],[6.66,2.8],[6.80,2.6],[6.94,2.3],[7.08,2.0],[7.22,1.3],[7.36,0.5],[7.50,1.6],[7.64,2.5],[7.85,3.1],[7.99,3],[8.13,3],[8.27,2.8],[8.42,2.9],[8.56,2.6],[8.77,2.5],[8.91,2.3],[9.12,2.4],[9.26,2.3],[9.40,2.2],[9.54,2.0],[9.68,1.9],[9.82,2.1],[9.96,1.8],[10.10,1.5],[10.24,1.3],[10.38,1.4],[10.52,1.2],[10.66,1.0],[10.80,0.9],[10.94,1.2],[11.08,1.3],[11.22,0.8],[11.36,0.6],[11.50,0.8],[11.64,0.7],[11.78,0.5],[11.92,0.9],[12.06,0.6],[12.13,0.2],[12.27,0.9],[12.41,0.8],[12.62,0.9],[12.76,0.7],[12.90,0.8],[13.04,1.5],[13.18,0.6],[13.32,0.4],[13.46,0.5],[13.60,0.7],[13.74,0.4],[13.88,0.8],[14.03,0.9],[14.17,0.5],[14.31,0.5],[14.45,0.6],[14.59,0.5],[14.73,0.7],[14.87,0.8],[15.01,1.2],[15.15,0.6],[15.29,0.4],[15.43,0.7],[15.57,0.5],[15.71,0.8],[15.85,1.0],[15.99,1.0],[16.13,1.2],[16.27,1.8],[16.41,1.3],[16.48,2.3],[16.55,1],[16.69,0.6],[16.83,2.2],[16.90,0.8],[17.04,1.8],[17.18,2.2],[17.32,2.3],[17.53,2.3],[17.67,2.4],[17.78,1.3],[17.88,2.0],[18.02,0.6],[18.16,0.2],[18.30,0.2],[18.40,0.8],[18.51,0.8],[18.65,0.8],[18.79,0.5]];

const cBlue = [[-0.11,315],[-0.03,300],[0.07,265],[0.17,245],[0.26,250],[0.41,265],[0.51,270],[0.65,260],[0.80,245],[0.90,243],[1.04,230],[1.14,220],[1.24,215],[1.39,225],[1.58,227],[1.73,225],[1.82,235],[1.92,225],[2.07,198],[2.17,205],[2.36,220],[2.56,230],[2.75,240],[2.85,258],[2.95,240],[3.04,232],[3.19,240],[3.34,270],[3.48,290],[3.63,282],[3.78,278],[3.92,250],[4.12,215],[4.26,225],[4.46,255],[4.65,280],[4.80,295],[4.90,285],[5.04,240],[5.14,205],[5.24,202],[5.39,215],[5.58,230],[5.73,233],[5.82,240],[5.92,225],[6.07,195],[6.17,178],[6.31,190],[6.51,225],[6.70,245],[6.85,255],[7.0,240],[7.14,200],[7.24,187],[7.39,205],[7.53,215],[7.73,217],[7.82,215],[7.92,195],[8.02,160],[8.17,135],[8.31,145],[8.51,170],[8.75,195],[8.90,180],[9.04,140],[9.19,120],[9.34,135],[9.48,152],[9.68,155],[9.82,165],[9.92,150],[10.07,115],[10.21,92],[10.36,105],[10.51,120],[10.65,122],[10.80,150],[10.90,140],[11.04,110],[11.19,75],[11.34,90],[11.48,120],[11.58,150],[11.68,145],[11.82,120],[12.02,100],[12.17,100],[12.26,130],[12.41,250],[12.56,320],[12.70,355],[12.80,360],[12.90,345],[13.0,330]];
const cRed = [[-0.11,288],[-0.03,270],[0.07,230],[0.17,210],[0.26,210],[0.41,215],[0.56,213],[0.70,210],[0.85,208],[1.0,200],[1.14,178],[1.29,190],[1.43,198],[1.63,200],[1.82,205],[1.97,190],[2.12,168],[2.26,172],[2.46,175],[2.65,180],[2.85,195],[3.04,175],[3.14,172],[3.29,190],[3.43,220],[3.63,220],[3.82,218],[3.97,195],[4.14,168],[4.26,180],[4.46,210],[4.70,240],[4.85,250],[4.95,240],[5.09,185],[5.19,165],[5.34,170],[5.53,190],[5.73,193],[5.87,190],[6.02,165],[6.17,135],[6.31,150],[6.51,180],[6.70,197],[6.80,203],[6.95,185],[7.14,150],[7.29,155],[7.48,168],[7.68,172],[7.82,170],[7.97,140],[8.12,110],[8.31,120],[8.51,135],[8.75,145],[8.90,130],[9.09,95],[9.19,90],[9.34,105],[9.48,115],[9.68,118],[9.82,123],[9.97,100],[10.17,70],[10.26,70],[10.46,85],[10.65,95],[10.85,105],[10.99,90],[11.19,58],[11.34,65],[11.53,80],[11.68,92],[11.82,80],[12.02,65],[12.17,60],[12.36,75],[12.56,105],[12.70,130],[12.85,145],[12.95,135],[13.0,120]];
const cBlack = [[-0.11,80],[-0.06,60],[0,50],[0.07,78],[0.12,null],[0.17,80],[0.21,105],[0.31,110],[0.41,100],[0.51,95],[0.60,100],[0.65,80],[0.70,70],[0.75,85],[0.80,60],[0.85,80],[0.95,55],[1.04,60],[1.14,48],[1.24,70],[1.34,75],[1.43,90],[1.53,110],[1.63,120],[1.73,105],[1.82,90],[1.92,95],[2.02,100],[2.12,75],[2.21,60],[2.26,80],[2.36,90],[2.46,100],[2.56,110],[2.65,115],[2.75,120],[2.85,110],[2.90,90],[2.96,null],
  [3.02,70],[3.09,62],[3.24,65],[3.39,80],[3.48,90],[3.58,95],[3.68,100],[3.78,110],[3.87,90],[3.92,80],[3.98,null],
  [4.07,78],[4.14,80],[4.2,null],[4.26,80],[4.33,78],[4.4,null],[4.46,78],[4.56,75],[4.65,78],[4.72,null],
  [4.80,100],[4.90,95],[5.0,85],[5.09,80],[5.19,125],[5.29,95],[5.39,100],[5.48,103],[5.55,null],
  [5.87,95],[5.97,80],[6.07,70],[6.17,75],[6.26,70],[6.36,80],[6.46,75],[6.56,90],[6.65,100],[6.75,95],[6.85,105],[6.95,95],[7.04,100],[7.14,110],[7.24,105],[7.34,128],[7.43,120],[7.48,85],[7.53,130],[7.63,110],[7.73,100],[7.82,95],[7.92,105],[8.02,95],[8.12,110],[8.21,120],[8.31,125],[8.36,100],[8.41,140],[8.51,105],[8.60,115],[8.70,100],[8.80,80],[8.90,75],[9.0,65],[9.09,58],[9.19,70],[9.29,95],[9.39,110],[9.48,105],[9.58,100],[9.68,115],[9.78,110],[9.87,95],[9.97,80],[10.07,70],[10.17,65],[10.26,58],[10.31,65],[10.41,100],[10.51,125],[10.60,120],[10.70,90],[10.75,140],[10.80,155],[10.90,110],[10.99,100],[11.09,85],[11.19,60],[11.29,55],[11.39,60],[11.48,75],[11.58,65],[11.68,70],[11.73,100],[11.78,65],[11.88,60],[11.97,65],[12.02,60],[12.1,null],
  [12.46,75],[12.56,70],[12.65,62]];

const fRed = [[-0.12,8.0],[-0.02,8.2],[0.08,8.6],[0.22,9.1],[0.30,9.2],[0.40,8.9],[0.52,8.3],[0.61,7.8],[0.71,7.6],[0.81,7.9],[0.96,8.1],[1.10,8.4],[1.25,8.4],[1.40,8.8],[1.54,8.3],[1.69,7.9],[1.83,7.8],[1.98,7.8],[2.13,8.0],[2.27,8.2],[2.42,8.1],[2.57,7.7],[2.66,7.6],[2.76,8.0],[2.86,8.9],[2.96,9.3],[3.05,9.7],[3.15,9.3],[3.30,9.2],[3.44,9.2],[3.59,9.4],[3.74,9.3],[3.88,9.2],[4.03,9.1],[4.13,9.2],[4.22,9.0],[4.37,8.6],[4.52,8.2],[4.66,8.1],[4.81,8.3],[4.96,8.0],[5.10,7.6],[5.25,7.2],[5.40,6.8],[5.54,6.5],[5.64,6.5],[5.74,6.7],[5.83,6.9],[5.98,7.0],[6.13,7.0],[6.27,7.0],[6.37,6.7],[6.47,6.6],[6.57,6.8],[6.71,7.2],[6.86,7.6],[7.0,7.9],[7.15,8.1],[7.25,7.8],[7.40,7.4],[7.54,7.1],[7.69,7.0],[7.83,6.9],[7.98,7.0],[8.13,6.9],[8.22,6.7],[8.32,6.0],[8.42,5.0],[8.52,4.6],[8.61,4.6],[8.71,4.9],[8.81,5.3],[8.96,5.8],[9.06,6.0],[9.20,5.6],[9.30,4.5],[9.40,3.6],[9.49,3.4],[9.59,3.5],[9.74,3.9],[9.88,4.5],[10.03,5.0],[10.18,5.4],[10.32,4.5],[10.47,3.0],[10.63,2.4],[10.76,2.5],[10.91,2.9],[11.06,3.1],[11.20,2.7],[11.36,2.4],[11.50,2.2],[11.66,1.9],[11.87,2.6],[12.02,2.8],[12.10,2.4],[12.24,1.8],[12.39,3.0],[12.54,4.0],[12.67,3.6],[12.78,3.0],[12.88,3.0],[13.02,3.7]];
const fBlue = [[-0.12,7.9],[-0.02,8.2],[0.13,8.6],[0.22,8.8],[0.32,8.5],[0.42,7.8],[0.57,7.2],[0.71,6.9],[0.86,7.0],[1.0,7.3],[1.20,7.5],[1.35,7.8],[1.49,7.6],[1.59,7.6],[1.74,7.6],[1.88,7.8],[2.03,7.9],[2.22,8.3],[2.37,8.3],[2.52,7.9],[2.66,7.7],[2.81,8.3],[2.96,9.0],[3.05,9.6],[3.15,10.1],[3.25,9.6],[3.35,9.2],[3.54,9.0],[3.74,9.0],[3.93,9.0],[4.13,9.3],[4.27,8.9],[4.42,8.3],[4.61,8.0],[4.81,8.0],[4.96,7.9],[5.10,7.5],[5.25,7.0],[5.40,6.7],[5.54,6.4],[5.69,6.5],[5.79,7.0],[5.98,7.2],[6.13,7.1],[6.22,7.1],[6.37,6.8],[6.47,6.6],[6.61,7.0],[6.76,7.3],[6.96,7.8],[7.10,8.1],[7.20,8.2],[7.30,7.6],[7.44,7.1],[7.64,7.0],[7.83,7.1],[7.98,6.9],[8.13,7.1],[8.22,6.7],[8.32,5.8],[8.42,4.8],[8.52,4.4],[8.61,4.5],[8.76,5.0],[8.91,5.7],[9.03,6.2],[9.15,6.0],[9.25,5.3],[9.36,4.0],[9.52,3.3],[9.62,3.5],[9.74,4.4],[9.90,4.9],[10.03,5.0],[10.19,5.4],[10.32,4.6],[10.45,3.4],[10.61,2.4],[10.76,2.5],[10.89,2.8],[11.06,3.2],[11.20,2.8],[11.36,2.3],[11.50,2.1],[11.66,1.9],[11.80,2.6],[11.91,3.4],[12.02,2.9],[12.13,2.4],[12.27,1.6],[12.43,2.5],[12.58,3.7],[12.68,3.4],[12.80,2.8],[12.90,3.2],[13.02,4.1]];
const fBlack = [[-0.04,2.9],[0.01,5],[0.05,8],[0.11,7],[0.16,8.5],[0.22,9.8],[0.27,9.2],[0.32,8],[0.37,6],[0.42,4.8],[0.52,4.5],[0.61,4.2],[0.66,5.2],[0.71,4.3],[0.76,4.5],[0.81,3.6],[0.86,4.5],[0.96,7.0],[1.0,4.8],[1.10,4.7],[1.20,4.9],[1.25,5.2],[1.35,4.6],[1.44,5.5],[1.54,5.6],[1.64,4.8],[1.69,4.0],[1.74,4.5],[1.83,4.6],[1.93,4.1],[1.98,4.0],[2.03,5.8],[2.13,5.6],[2.22,6.0],[2.32,5.9],[2.42,6.5],[2.52,7.2],[2.57,7.5],[2.66,6.5],[2.71,8.0],[2.81,8.5],[2.91,8.6],[3.0,8.5],[3.10,8.5],[3.15,6.0],[3.20,5.4],[3.30,5.1],[3.35,5.9],[3.44,6.1],[3.54,5.8],[3.64,6.8],[3.74,6.5],[3.83,5.4],[3.93,5.8],[4.01,8.9],[4.08,7.0],[4.18,6.3],[4.27,7.2],[4.37,6.5],[4.47,6.0],[4.57,5.8],[4.66,6.3],[4.76,7.3],[4.86,7.5],[4.96,6.8],[5.05,6.2],[5.15,7.0],[5.25,5.8],[5.30,5.2],[5.40,5.8],[5.49,6.5],[5.59,6.0],[5.69,6.0],[5.74,7.2],[5.79,8.0],[5.88,7.5],[5.98,8.1],[6.08,7.8],[6.18,5.4],[6.22,6.0],[6.32,6.5],[6.42,8.5],[6.52,8.3],[6.61,8.7],[6.71,8.2],[6.81,8.0],[6.91,8.5],[7.0,8.9],[7.10,8.1],[7.20,7.5],[7.30,8.4],[7.40,9.3],[7.49,8.8],[7.59,9.5],[7.69,9.0],[7.79,9.2],[7.88,9.0],[7.98,9.3],[8.08,9.0],[8.18,10.5],[8.27,11.2],[8.34,10.0],[8.40,8.2],[8.47,8.5],[8.57,8.9],[8.66,8.3],[8.73,8.0],[8.87,7.1],[9.02,6.8],[9.13,5.2],[9.28,3.7],[9.43,2.4],[9.54,3.0],[9.65,4.2],[9.76,4.0],[9.84,5.2],[9.91,4.0],[10.02,3.5],[10.13,2.8],[10.21,1.9],[10.32,3.0],[10.43,5.4],[10.54,5.9],[10.69,6.4],[10.80,5.9],[10.95,5.9],[11.06,4.0],[11.13,2.3],[11.24,1.6],[11.39,1.1],[11.54,0.4],[11.69,0.6],[11.76,0.2],[11.91,1.2],[12.06,1.8],[12.21,2.4],[12.36,1.7],[12.50,1.1],[12.65,0.6],[12.76,1.3],[12.84,2.0],[12.93,0.6],[13.0,1.3]];

// ---- drawing ----
const FONT = '"Liberation Sans", Arial, Helvetica, sans-serif';
const RED = '#ee3b2b';
const BLUE = '#1f77c9';
const BLACK = '#111111';
const AXIS = '#8f8f8f';
const TEXT = '#222222';

const svg = d3.select('#chart').attr('font-family', FONT);

const panels = [
  { letter: 'A', lx: 0, ly: 23, left: 77.5, right: 670, top: 32, bottom: 212, xDomain: [-0.115, 24.18], yDomain: [0, 250],
    yTicks: aYTicks, xLabels: aDates, unit: 'dms', labelX: 38, red: aRed, blue: aBlue, black: aBlack },
  { letter: 'D', lx: 700, ly: 25, left: 770.5, right: 1363, top: 32, bottom: 212, xDomain: [-0.02, 26.2], yDomain: [0, 15],
    yTicks: dYTicks, xLabels: dDates, unit: 'wind', labelX: 745, red: dRed, blue: dBlue, black: dBlack },
  { letter: 'B', lx: 1, ly: 282, left: 77.5, right: 670, top: 286.5, bottom: 467, xDomain: [-0.045, 17.56], yDomain: [0, 200],
    yTicks: bYTicks, xLabels: bDates, unit: 'dms', labelX: 38, red: bRed, blue: bBlue, black: bBlack },
  { letter: 'E', lx: 701, ly: 283, left: 770.5, right: 1363, top: 286.5, bottom: 467, xDomain: [-0.006, 18.83], yDomain: [0, 8],
    yTicks: eYTicks, xLabels: eDates, unit: 'wind', labelX: 750, red: eRed, blue: eBlue, black: eBlack },
  { letter: 'C', lx: 1, ly: 538, left: 77.5, right: 670, top: 541, bottom: 722, xDomain: [-0.12, 13.02], yDomain: [0, 361],
    yTicks: cYTicks, xLabels: febDates, unit: 'dms', labelX: 38, red: cRed, blue: cBlue, black: cBlack },
  { letter: 'F', lx: 701, ly: 537, left: 770.5, right: 1363, top: 541, bottom: 722, xDomain: [-0.11, 13.03], yDomain: [0, 13.1],
    yTicks: fYTicks, xLabels: febDates, unit: 'wind', labelX: 745, red: fRed, blue: fBlue, black: fBlack }
];

function styleAxis(sel) {
  sel.attr('font-family', FONT).attr('font-size', 14);
  sel.select('.domain').remove();
  sel.selectAll('.tick line').attr('stroke', AXIS);
  sel.selectAll('.tick text').attr('fill', TEXT);
}

function drawPanel(p) {
  const x = d3.scaleLinear().domain(p.xDomain).range([p.left, p.right]);
  const y = d3.scaleLinear().domain(p.yDomain).range([p.bottom, p.top]);
  const g = svg.append('g');

  const clipId = 'clip-' + p.letter;
  g.append('clipPath').attr('id', clipId).append('rect')
    .attr('x', p.left).attr('y', p.top)
    .attr('width', p.right - p.left).attr('height', p.bottom - p.top);

  const line = d3.line()
    .defined(d => d[1] !== null)
    .x(d => x(d[0]))
    .y(d => y(d[1]));

  const plot = g.append('g').attr('clip-path', `url(#${clipId})`);
  [[p.black, BLACK, 1.7], [p.red, RED, 1.9], [p.blue, BLUE, 1.9]].forEach(([data, colour, width]) => {
    plot.append('path')
      .datum(data)
      .attr('d', line)
      .attr('fill', 'none')
      .attr('stroke', colour)
      .attr('stroke-width', width)
      .attr('stroke-linejoin', 'round');
  });

  const xTicks = p.xLabels.map((_, i) => i);

  const bottom = g.append('g')
    .attr('transform', `translate(0,${p.bottom})`)
    .call(d3.axisBottom(x).tickValues(xTicks).tickSizeInner(-4).tickSizeOuter(0).tickFormat(i => p.xLabels[i]));
  styleAxis(bottom);
  bottom.selectAll('.tick text')
    .attr('transform', 'rotate(-90)')
    .attr('x', -5)
    .attr('y', 0)
    .attr('dy', '0.35em')
    .style('text-anchor', 'end');

  const top = g.append('g')
    .attr('transform', `translate(0,${p.top})`)
    .call(d3.axisTop(x).tickValues(xTicks).tickSizeInner(-4).tickSizeOuter(0).tickFormat(''));
  styleAxis(top);

  const leftAxis = g.append('g')
    .attr('transform', `translate(${p.left},0)`)
    .call(d3.axisLeft(y).tickValues(p.yTicks).tickSizeInner(-4).tickSizeOuter(0).tickPadding(4));
  styleAxis(leftAxis);

  const rightAxis = g.append('g')
    .attr('transform', `translate(${p.right},0)`)
    .call(d3.axisRight(y).tickValues(p.yTicks).tickSizeInner(-4).tickSizeOuter(0).tickFormat(''));
  styleAxis(rightAxis);

  g.append('rect')
    .attr('x', p.left).attr('y', p.top)
    .attr('width', p.right - p.left).attr('height', p.bottom - p.top)
    .attr('fill', 'none').attr('stroke', AXIS).attr('stroke-width', 1);

  // y-axis title
  const title = g.append('text')
    .attr('transform', `translate(${p.labelX},${(p.top + p.bottom) / 2}) rotate(-90)`)
    .attr('text-anchor', 'middle')
    .attr('font-size', 16)
    .attr('fill', TEXT);
  if (p.unit === 'dms') {
    title.append('tspan').text('DMS');
    title.append('tspan').attr('dy', 4).attr('font-size', 11).text('a');
    title.append('tspan').attr('dy', -4).text(' (ppt)');
  } else {
    title.append('tspan').text('wind speed (m s');
    title.append('tspan').attr('dy', -6).attr('font-size', 11).text('-1');
    title.append('tspan').attr('dy', 6).text(')');
  }

  // panel letter
  svg.append('text')
    .attr('x', p.lx).attr('y', p.ly)
    .attr('font-size', 27).attr('font-weight', 'bold')
    .attr('fill', '#000')
    .text(p.letter);
}

panels.forEach(drawPanel);
</script>
</body>
</html>
